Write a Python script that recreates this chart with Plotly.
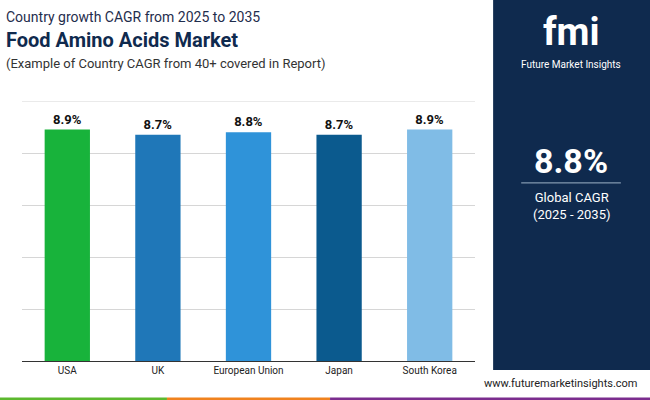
import plotly.graph_objects as go

countries = ["USA", "UK", "European Union", "Japan", "South Korea"]
cagr = [8.9, 8.7, 8.8, 8.7, 8.9]
bar_colors = ["#18b33b", "#1f77b8", "#2f93d9", "#0b5a8e", "#80bce6"]

fig = go.Figure()
fig.add_trace(go.Bar(
    x=countries, y=cagr, marker=dict(color=bar_colors, line=dict(width=0)),
    width=0.5, text=[f"{v}%" for v in cagr], textposition="outside",
    textfont=dict(family="Roboto", size=13, color="#111", weight="bold"),
    cliponaxis=False, showlegend=False
))

fig.update_layout(
    width=650, height=400, margin=dict(l=22, r=175, t=101, b=39),
    paper_bgcolor="white", plot_bgcolor="white",
    font=dict(family="Roboto", color="#222"),
    xaxis=dict(tickfont=dict(size=10, color="#222"), showline=True, linecolor="#333", linewidth=1),
    yaxis=dict(range=[0, 10], dtick=2, showticklabels=False, gridcolor="#d6d6d6",
               zeroline=False),
    bargap=0.3,
)
# top grid line
fig.add_shape(type="line", xref="paper", yref="y", x0=0, x1=1, y0=10, y1=10,
              line=dict(color="#d6d6d6", width=1), layer="below")

# right panel
cx = 1.212
fig.add_shape(type="rect", xref="paper", yref="paper", x0=1.04, x1=2, y0=-0.035, y1=2,
              fillcolor="#0f2a4e", line_width=0, layer="below")
fig.add_shape(type="line", xref="paper", yref="paper", x0=1.102, x1=1.322, y0=0.685, y1=0.685,
              line=dict(color="#9fb3c8", width=1))
fig.add_annotation(xref="paper", yref="paper", x=cx, y=0.77, text="<b>8.8%</b>", showarrow=False,
                   xanchor="center", yanchor="middle", font=dict(size=34, color="white"))
fig.add_annotation(xref="paper", yref="paper", x=cx, y=0.595, text="Global CAGR<br>(2025 - 2035)",
                   xanchor="center", yanchor="middle", showarrow=False, font=dict(size=13, color="white"))
fig.add_annotation(xref="paper", yref="paper", x=cx, y=1.265, text="<b>fmi</b>", showarrow=False,
                   xanchor="center", yanchor="middle", font=dict(size=38, color="white"))
fig.add_annotation(xref="paper", yref="paper", x=cx, y=1.14, text="Future Market Insights",
                   xanchor="center", yanchor="middle", showarrow=False, font=dict(size=10, color="white"))

# titles
fig.add_annotation(xref="paper", yref="paper", x=-0.04, y=1.323, xanchor="left", yanchor="middle",
                   showarrow=False, text="Country growth CAGR from 2025 to 2035",
                   font=dict(size=14, color="#1f2d4d"))
fig.add_annotation(xref="paper", yref="paper", x=-0.04, y=1.235, xanchor="left", yanchor="middle",
                   showarrow=False, text="<b>Food Amino Acids Market</b>", font=dict(size=20, color="#0f2a4e"))
fig.add_annotation(xref="paper", yref="paper", x=-0.04, y=1.146, xanchor="left", yanchor="middle",
                   showarrow=False, text="(Example of Country CAGR from 40+ covered in Report)",
                   font=dict(size=13, color="#333"))

fig.add_annotation(xref="paper", yref="paper", x=1.364, y=-0.085, xanchor="right", yanchor="middle",
                   showarrow=False, text="www.futuremarketinsights.com", font=dict(size=11, color="#222"))

# bottom strip
for x0, x1, c in [(-0.05, 0.32, "#5cb82e"), (0.32, 0.68, "#f0821e"), (0.68, 1.5, "#7b2d8e")]:
    fig.add_shape(type="rect", xref="paper", yref="paper", x0=x0, x1=x1, y0=-0.155, y1=-0.14,
                  fillcolor=c, line_width=0)

fig.write_html("out.html", config={"displayModeBar": False},
               post_script="document.body.style.margin='0';")
